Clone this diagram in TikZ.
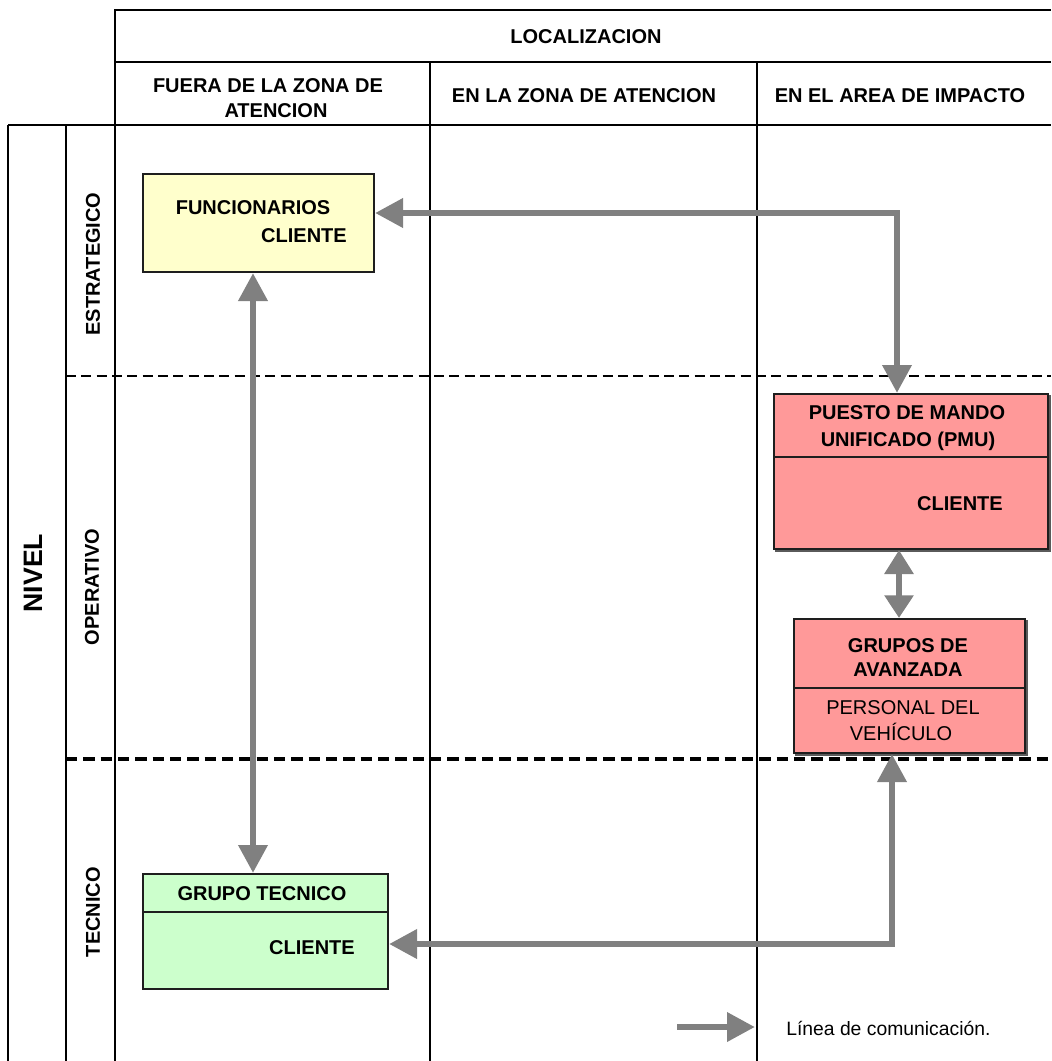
\documentclass[tikz,border=0pt]{standalone}
\usepackage{fontspec}
\setmainfont{Liberation Sans}
\usetikzlibrary{arrows.meta}
\definecolor{commgray}{RGB}{128,128,128}
\definecolor{boxyellow}{RGB}{255,255,204}
\definecolor{boxred}{RGB}{255,153,153}
\definecolor{boxgreen}{RGB}{204,255,204}
\definecolor{boxline}{RGB}{30,30,30}
\definecolor{shade}{RGB}{90,90,90}

\begin{document}
\begin{tikzpicture}[x=0.75pt,y=-0.75pt,
  gridline/.style={line width=2pt,black},
  thingrid/.style={line width=1.4pt,black},
  softdash/.style={line width=1.2pt,dash pattern=on 7.5pt off 4pt},
  harddash/.style={line width=2.3pt,dash pattern=on 8.5pt off 4.5pt},
  lbl/.style={font=\fontsize{15}{18}\selectfont\bfseries,inner sep=0pt},
  txt/.style={font=\fontsize{15}{18}\selectfont,inner sep=0pt},
  side/.style={lbl,rotate=90},
  unit/.style={draw=boxline,line width=1.5pt,anchor=north west,inner sep=0pt},
  shadowed/.style={unit,preaction={fill=shade,draw=shade,transform canvas={shift={(1.6pt,-1.6pt)}}}},
  comm/.style={draw=commgray,line width=5pt,
    arrows={Triangle[length=21pt,width=21pt]-Triangle[length=21pt,width=21pt]}},
  commshort/.style={comm,
    arrows={Triangle[length=18pt,width=21pt]-Triangle[length=17pt,width=21pt]}},
]
\useasboundingbox (0,0) rectangle (1051,1061);

% ---- table frame ----
\draw[gridline] (115,1061) -- (115,10) -- (1051,10);
\draw[gridline] (115,62) -- (1051,62);
\draw[gridline] (8,125) -- (1051,125);
\draw[thingrid] (8,125) -- (8,1061);
\draw[gridline] (66,125) -- (66,1061);
\draw[gridline] (430,62) -- (430,1061);
\draw[gridline] (757,62) -- (757,1061);
\draw[softdash] (66,376) -- (1051,376);
\draw[harddash] (66,759) -- (1051,759);

% ---- headers ----
\node[lbl] (hloc) at (586,37) {LOCALIZACION};
\node[lbl] (hfuera1) at (268,86) {FUERA DE LA ZONA DE};
\node[lbl] (hfuera2) at (276,111) {ATENCION};
\node[lbl] (hzona) at (584,96) {EN LA ZONA DE ATENCION};
\node[lbl] (harea) at (900,96) {EN EL AREA DE IMPACTO};

% ---- level labels ----
\node[lbl,rotate=90,font=\fontsize{20}{22}\selectfont\bfseries] (nivel) at (33,573) {NIVEL};
\node[side] (lest) at (93,264) {ESTRATEGICO};
\node[side] (lope) at (92,587) {OPERATIVO};
\node[side] (ltec) at (93,912) {TECNICO};

% ---- units ----
\node[unit,fill=boxyellow,minimum width=173.25pt,minimum height=73.5pt] (func) at (142,173) {};
\node[lbl] (functxt1) at (253,208) {FUNCIONARIOS};
\node[lbl] (functxt2) at (304,236) {CLIENTE};

\node[shadowed,fill=boxred,minimum width=205.5pt,minimum height=116.25pt] (pmu) at (773,393) {};
\draw[boxline,line width=1.2pt] (pmu.west |- 0,457) -- (pmu.east |- 0,457);
\node[lbl] (pmutxt1) at (907,413) {PUESTO DE MANDO};
\node[lbl] (pmutxt2) at (908,441) {UNIFICADO (PMU)};
\node[lbl] (pmutxt3) at (960,504) {CLIENTE};

\node[shadowed,fill=boxred,minimum width=173.25pt,minimum height=100.5pt] (grp) at (793,618) {};
\draw[boxline,line width=1.2pt] (grp.west |- 0,688) -- (grp.east |- 0,688);
\node[lbl] (grptxt1) at (908,646) {GRUPOS DE};
\node[lbl] (grptxt2) at (908,670) {AVANZADA};
\node[txt] (grptxt3) at (903,708) {PERSONAL DEL};
\node[txt] (grptxt4) at (901,732) {VEHÍCULO};

\node[unit,fill=boxgreen,minimum width=183.75pt,minimum height=86.25pt] (gt) at (142,873) {};
\draw[boxline,line width=1.2pt] (gt.west |- 0,912) -- (gt.east |- 0,912);
\node[lbl] (gttxt1) at (262,894) {GRUPO TECNICO};
\node[lbl] (gttxt2) at (312,948) {CLIENTE};

% ---- communication lines ----
\coordinate (bendA) at (897,213);
\coordinate (railB) at (253,0);
\coordinate (railC) at (899,0);
\coordinate (bendD) at (892,944);

\draw[comm] (func.east |- bendA) -| (pmu.north -| bendA);
\draw[comm] (func.south -| railB) -- (gt.north -| railB);
\draw[commshort] (pmu.south -| railC) -- (grp.north -| railC);
\draw[comm] (gt.east |- bendD) -| (grp.south -| bendD);

% ---- legend ----
\coordinate (legfrom) at (677,1027);
\coordinate (legto) at (755,1027);
\draw[comm,arrows=-{Triangle[length=21pt,width=21pt]}] (legfrom) -- (legto);
\node[txt,font=\fontsize{14.5}{17}\selectfont,anchor=west] (legtxt) at (786,1028) {Línea de comunicación.};
\end{tikzpicture}
\end{document}
